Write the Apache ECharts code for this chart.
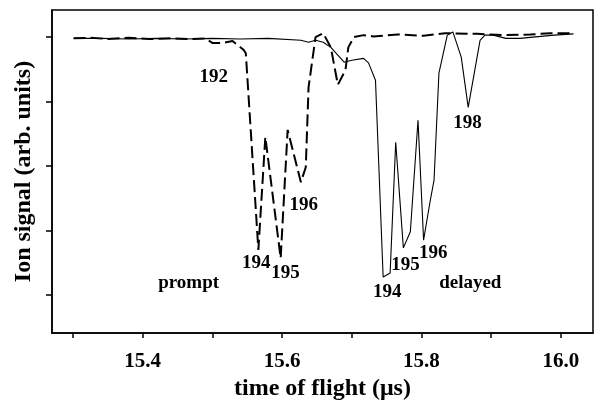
<!DOCTYPE html>
<html>
<head>
<meta charset="utf-8">
<script src="https://cdn.jsdelivr.net/npm/echarts@6/dist/echarts.min.js"></script>
<style>
  html, body { margin: 0; padding: 0; background: #fff; }
  #chart { width: 595px; height: 409px; }
</style>
</head>
<body>
<div id="chart"></div>
<script>
// prompt (dashed) trace
var promptTime = [15.301, 15.325, 15.35, 15.38, 15.41, 15.44, 15.47, 15.49, 15.50, 15.515, 15.529, 15.545,
  15.548, 15.566, 15.576, 15.598, 15.608, 15.627, 15.634, 15.638, 15.648, 15.659, 15.670, 15.680,
  15.691, 15.695, 15.703, 15.717, 15.731, 15.766, 15.803, 15.834, 15.880, 15.918, 15.956, 15.985, 16.018];
var promptSignal = [3.98, 3.99, 3.97, 3.99, 3.97, 3.98, 3.97, 3.98, 3.91, 3.91, 3.94, 3.80,
  3.75, 0.70, 2.45, 0.57, 2.56, 1.75, 1.98, 3.22, 4.00, 4.06, 3.84, 3.26,
  3.49, 3.84, 4.00, 4.03, 4.01, 4.04, 4.02, 4.06, 4.05, 4.03, 4.04, 4.06, 4.06];

// delayed (solid) trace
var delayedTime = [15.301, 15.34, 15.38, 15.42, 15.46, 15.50, 15.54, 15.58, 15.627, 15.638, 15.648, 15.659,
  15.670, 15.689, 15.70, 15.717, 15.724, 15.734, 15.745, 15.755, 15.763, 15.774, 15.784, 15.795,
  15.803, 15.812, 15.818, 15.825, 15.837, 15.845, 15.857, 15.867, 15.884, 15.891, 15.903, 15.921,
  15.941, 15.960, 15.99, 16.018];
var delayedSignal = [3.98, 3.98, 3.97, 3.98, 3.97, 3.98, 3.97, 3.98, 3.95, 3.92, 3.95, 3.92,
  3.84, 3.61, 3.64, 3.67, 3.60, 3.33, 0.28, 0.34, 2.37, 0.73, 0.98, 2.71,
  0.85, 1.43, 1.78, 3.44, 4.03, 4.08, 3.69, 2.91, 3.95, 4.03, 4.03, 3.98,
  3.98, 4.00, 4.03, 4.05];

// annotations
var labelText = ['192', '194', '195', '196', 'prompt', '194', '195', '196', 'delayed', '198'];
var labelTime = [15.502, 15.563, 15.605, 15.631, 15.466, 15.751, 15.777, 15.817, 15.870, 15.866];
var labelSignal = [3.38, 0.50, 0.34, 1.40, 0.19, 0.05, 0.47, 0.65, 0.19, 2.67];

// axis ticks
var xTicks = [15.3, 15.4, 15.5, 15.6, 15.7, 15.8, 15.9, 16.0];
var xTickLabels = [15.4, 15.6, 15.8, 16.0];
var yTicks = [0, 1, 2, 3, 4];

var font = 'Liberation Serif';

function pairs(xs, ys) {
  return xs.map(function (x, i) { return [x, ys[i]]; });
}

var chart = echarts.init(document.getElementById('chart'));

var option = {
  animation: false,
  backgroundColor: '#fff',
  grid: {
    left: 52, top: 10, right: 2, bottom: 76,
    show: true, borderColor: '#000', borderWidth: 1.5, backgroundColor: 'transparent'
  },
  xAxis: {
    type: 'value',
    min: 15.27,
    max: 16.046,
    name: 'time of flight (\u03bcs)',
    nameLocation: 'middle',
    nameGap: 44,
    nameTextStyle: { fontFamily: font, fontWeight: 'bold', fontSize: 24, color: '#000' },
    axisLine: { onZero: false, lineStyle: { color: '#000', width: 1.5 } },
    axisTick: { show: true, length: 5, customValues: xTicks, lineStyle: { color: '#000', width: 1.5 } },
    axisLabel: {
      customValues: xTickLabels, margin: 18,
      fontFamily: font, fontWeight: 'bold', fontSize: 21, color: '#000',
      formatter: function (v) { return v.toFixed(1); }
    },
    splitLine: { show: false }
  },
  yAxis: {
    type: 'value',
    min: -0.59,
    max: 4.42,
    name: 'Ion signal (arb. units)',
    nameLocation: 'middle',
    nameGap: 16,
    nameTextStyle: { fontFamily: font, fontWeight: 'bold', fontSize: 24, color: '#000' },
    axisLine: { onZero: false, lineStyle: { color: '#000', width: 1.5 } },
    axisTick: { show: true, length: 6, customValues: yTicks, lineStyle: { color: '#000', width: 1.5 } },
    axisLabel: { show: false },
    splitLine: { show: false }
  },
  series: [
    {
      name: 'prompt',
      type: 'line',
      data: pairs(promptTime, promptSignal),
      showSymbol: false,
      lineStyle: { color: '#000', width: 2, type: [12, 5] }
    },
    {
      name: 'delayed',
      type: 'line',
      data: pairs(delayedTime, delayedSignal),
      showSymbol: false,
      lineStyle: { color: '#000', width: 1.1 }
    },
    {
      name: 'labels',
      type: 'scatter',
      symbolSize: 1,
      itemStyle: { color: 'rgba(0,0,0,0)', opacity: 1 },
      data: labelTime.map(function (t, i) { return [t, labelSignal[i], labelText[i]]; }),
      label: {
        show: true,
        position: 'inside',
        formatter: function (p) { return p.value[2]; },
        fontFamily: font, fontWeight: 'bold', fontSize: 19, color: '#000'
      }
    }
  ]
};

chart.setOption(option);
</script>
</body>
</html>
